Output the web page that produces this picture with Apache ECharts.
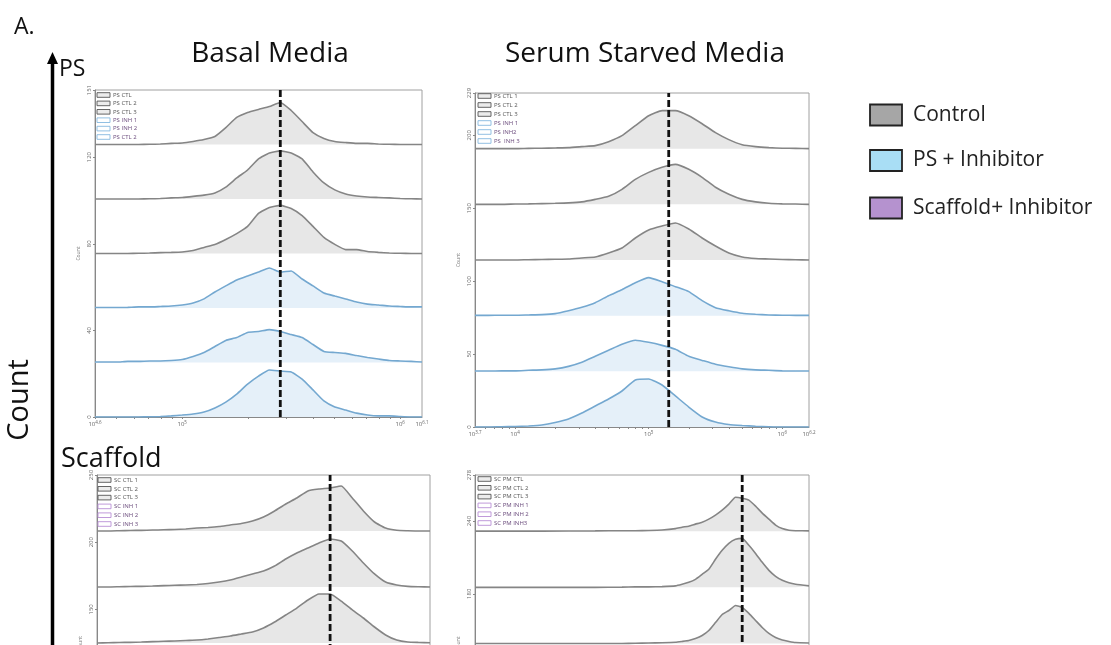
<!DOCTYPE html>
<html><head><meta charset="utf-8">
<script src="https://cdn.jsdelivr.net/npm/echarts@6/dist/echarts.min.js"></script>
<style>html,body{margin:0;padding:0;background:#fff}#c{width:1111px;height:645px}</style>
</head><body><div id="c"></div>
<script>
// ---- x bins (log10 fluorescence) ----
const basalBins = [4.6,4.65,4.7,4.75,4.8,4.85,4.9,4.95,5.0,5.05,5.1,5.15,5.2,5.25,5.3,5.35,5.4,5.45,5.5,5.55,5.6,5.65,5.7,5.75,5.8,5.85,5.9,5.95,6.0,6.05,6.1];
const serumBins = [3.7,3.8,3.9,4.0,4.1,4.2,4.3,4.4,4.5,4.6,4.7,4.8,4.9,5.0,5.1,5.2,5.3,5.4,5.5,5.6,5.7,5.8,5.9,6.0,6.1,6.2];
const scSerumBins = [3.7,4.2,4.6,4.8,4.9,5.0,5.1,5.2,5.25,5.3,5.35,5.4,5.45,5.5,5.55,5.6,5.65,5.7,5.75,5.8,5.85,5.9,5.95,6.0,6.05,6.1,6.2];

// ---- counts (top row first) ----
const psBasalCtl1 = [0,0,0,0,0,0.1,0.2,0.5,0.7,1.4,2.3,3.7,7.8,12.5,14.8,16.2,17.5,19.4,15.7,10.6,5.5,2.8,1.4,0.9,0.5,0.5,0.2,0.1,0,0,0];
const psBasalCtl2 = [0,0,0,0,0,0.1,0.2,0.5,0.7,1.2,1.8,2.8,5.5,9.7,13.4,18.5,21.2,22.2,21.2,18.5,12.5,7.4,4.2,2.3,1.4,0.9,0.7,0.5,0.2,0.1,0];
const psBasalCtl3 = [0,0,0,0,0.1,0.2,0.4,0.5,0.7,1.4,2.8,4.2,6.5,9.2,12.5,18.5,21.2,22.2,20.8,17.5,12.5,7.4,4.2,1.8,1.8,0.9,0.5,0.2,0.1,0,0];
const psBasalInh1 = [0.2,0.2,0.2,0.3,0.5,0.5,0.7,0.9,1.4,2.3,4.2,7.4,10.2,12.9,14.8,16.6,18.5,16.6,17.1,13.4,10.2,6.9,5.5,4.2,2.8,1.8,1.4,0.9,0.7,0.5,0.5];
const psBasalInh2 = [0.2,0.2,0.2,0.5,0.5,0.7,0.7,0.9,1.4,2.8,4.6,7.4,10.2,11.5,13.9,14.3,15.2,14.3,12.9,11.5,8.3,5.1,4.6,4.2,3.2,2.3,1.6,0.9,0.7,0.5,0.2];
const psBasalInh3 = [0,0,0,0,0,0.1,0.2,0.5,0.9,1.4,2.3,4.2,6.9,10.6,15.2,18.9,21.7,21.2,20.8,17.5,12.5,7.4,4.6,3.2,1.8,0.9,0.5,0.5,0.2,0,0];

const psSerumCtl1 = [0,0,0,0,0.2,0.3,0.5,0.7,1.4,2.1,4.8,8.9,15.8,22.6,26.1,26.1,22.6,17.1,11,6.2,2.7,1.4,0.7,0.3,0.2,0];
const psSerumCtl2 = [0,0,0,0.2,0.3,0.5,0.7,1,1.7,3.4,5.5,10.3,17.1,21.9,25.4,27.4,24,18.5,11.7,6.9,3.4,1.7,0.7,0.3,0.2,0];
const psSerumCtl3 = [0,0,0,0,0.2,0.3,0.5,0.7,1.4,2.1,4.8,8.2,15.1,20.6,23.3,25.4,21.3,15.1,9.6,4.8,2.1,1,0.7,0.3,0.2,0];
const psSerumInh1 = [0.2,0.2,0.3,0.3,0.5,0.7,1.4,3.4,5.8,8.9,13.7,17.8,22.6,26.1,23.3,19.9,16.5,10.3,5.5,3.4,1.7,1,0.5,0.3,0.2,0.2];
const psSerumInh2 = [0.2,0.2,0.3,0.3,0.7,1,1.7,3.4,6.2,10.3,14.4,18.5,21.3,19.9,17.8,15.1,10.3,7.5,4.8,3.1,1.7,1,0.7,0.3,0.2,0.2];
const psSerumInh3 = [0,0,0.2,0.3,0.7,1.4,3.1,5.5,9.6,14.4,19.2,24.7,32.2,32.9,28.8,21.3,13.7,6.9,3.4,1.7,1,0.5,0.2,0,0,0];

const scBasalCtl1 = [0,0,0.2,0.4,0.5,0.7,0.9,1.1,1.5,2.2,2.6,3.3,4.5,5.6,7.4,10.4,14.9,20.1,24.6,29.8,31.2,32,33.5,24.6,14.9,6.7,2.2,0.5,0.2,0,0];
const scBasalCtl2 = [0,0,0.2,0.4,0.5,0.7,1,1.3,1.5,1.9,2.6,3.7,5.2,7.4,9.7,11.9,15.6,20.8,25.3,29,32.7,35.7,34.2,26.8,17.9,9.7,3.7,1.5,0.5,0.2,0];
const scBasalCtl3 = [0,0.2,0.4,0.5,0.7,1,1.3,1.5,1.9,2.2,3,4.1,5.2,6.7,8.2,11.2,15.6,20.8,26,32,36.5,36.5,31.2,24.6,18.6,11.9,6,2.2,0.7,0.4,0.2];

const scSerumCtl1 = [0,0,0.2,0.4,0.4,0.6,1,2.1,3.3,4.1,5.8,7.4,9.9,13.2,17.3,22.3,28,27.2,25.6,20.6,14.9,9.9,5,2.1,0.8,0.4,0.2];
const scSerumCtl2 = [0,0,0,0.2,0.4,0.4,0.6,1.2,2.5,4.1,6.6,10.7,14.9,23.1,30.5,36.3,39.6,40.4,34.7,28,20.6,14,9.1,5.8,3.7,2.5,1.2];
const scSerumCtl3 = [0,0,0,0,0.2,0.4,0.6,1,1.7,2.5,4.1,6.6,10.7,17.3,23.9,27.2,31.4,29.7,24.8,19,13.2,8.3,5,2.9,1.7,0.8,0.4];

// ---- axis ticks / labels ----
const basalYLabels = [0,40,80,120,151];
const serumYLabels = [0,50,100,150,200,229];
const scBasalYLabels = [0,50,100,150,200,250];
const scSerumYLabels = [0,60,120,180,240,278];
const basalXLabels = [4.6,5,6,6.1];
const serumXLabels = [3.7,4,5,6,6.2];

// ---- dashed reference positions (log10) ----
const markers = [5.45, 5.15, 5.65, 5.70];

// ---- in-panel legend names ----
const psBasalNames = ['PS CTL','PS CTL 2','PS CTL 3','PS INH 1','PS INH 2','PS CTL 2'];
const psSerumNames = ['PS CTL 1','PS CTL 2','PS CTL 3','PS INH 1','PS INH2','PS  INH 3'];
const scBasalNames = ['SC CTL 1','SC CTL 2','SC CTL 3','SC INH 1','SC INH 2','SC INH 3'];
const scSerumNames = ['SC PM CTL','SC PM CTL 2','SC PM CTL 3','SC PM INH 1','SC PM INH 2','SC PM INH3'];
const legendNames = ['Control','PS + Inhibitor','Scaffold+ Inhibitor'];

const GRAY = {line:'#858585', fill:'#e7e7e7', box:'#555', text:'#555'};
const BLUE = {line:'#74a8d0', fill:'#e5f0f9', box:'#86b9e0', text:'#6a4b7c'};
const PURP = {box:'#b98fd6', text:'#6a4b7c'};

const panels = [
  {grid:{left:95,top:90,width:327,height:327}, xMin:4.6, xMax:6.1, yMax:151, yLabels:basalYLabels, xLabels:basalXLabels,
   bins:basalBins, rows:[psBasalCtl1,psBasalCtl2,psBasalCtl3,psBasalInh1,psBasalInh2,psBasalInh3], kinds:[GRAY,GRAY,GRAY,BLUE,BLUE,BLUE],
   names:psBasalNames, boxKinds:[GRAY,GRAY,GRAY,BLUE,BLUE,BLUE], leg:{x:97,y:95,dy:8.4}},
  {grid:{left:475,top:93,width:334,height:334}, xMin:3.7, xMax:6.2, yMax:229, yLabels:serumYLabels, xLabels:serumXLabels,
   bins:serumBins, rows:[psSerumCtl1,psSerumCtl2,psSerumCtl3,psSerumInh1,psSerumInh2,psSerumInh3], kinds:[GRAY,GRAY,GRAY,BLUE,BLUE,BLUE],
   names:psSerumNames, boxKinds:[GRAY,GRAY,GRAY,BLUE,BLUE,BLUE], leg:{x:478,y:96,dy:9}},
  {grid:{left:97,top:475,width:333,height:336}, xMin:4.6, xMax:6.1, yMax:250, yLabels:scBasalYLabels, xLabels:basalXLabels,
   bins:basalBins, rows:[scBasalCtl1,scBasalCtl2,scBasalCtl3], kinds:[GRAY,GRAY,GRAY],
   names:scBasalNames, boxKinds:[GRAY,GRAY,GRAY,PURP,PURP,PURP], leg:{x:98,y:480,dy:8.8}},
  {grid:{left:475,top:475,width:334,height:337}, xMin:3.7, xMax:6.2, yMax:278, yLabels:scSerumYLabels, xLabels:serumXLabels,
   bins:scSerumBins, rows:[scSerumCtl1,scSerumCtl2,scSerumCtl3], kinds:[GRAY,GRAY,GRAY],
   names:scSerumNames, boxKinds:[GRAY,GRAY,GRAY,PURP,PURP,PURP], leg:{x:478,y:479,dy:8.8}}
];

function minorTicks(a,b){
  const out=[];
  for(let e=Math.floor(a); e<=Math.ceil(b); e++){
    for(let k=1;k<=9;k++){const v=e+Math.log10(k); if(v>=a-1e-9 && v<=b+1e-9) out.push(v);}
  }
  return out;
}
function fmtExp(v){ return '10{s|' + (Math.round(v*10)/10) + '}'; }

const FONT = '"Open Sans", "Noto Sans", sans-serif';
const grids=[], xAxes=[], yAxes=[], series=[], graphics=[];

panels.forEach((p,i)=>{
  grids.push(Object.assign({show:true, borderColor:'#a0a0a0', borderWidth:1, containLabel:false, outerBoundsMode:'none'}, p.grid));
  xAxes.push({type:'value', gridIndex:i, min:p.xMin, max:p.xMax,
    axisLine:{lineStyle:{color:'#888',width:1}},
    axisTick:{length:2, lineStyle:{color:'#888'}, customValues:minorTicks(p.xMin,p.xMax)},
    axisLabel:{customValues:p.xLabels, formatter:fmtExp, color:'#666', fontSize:6, margin:3, fontFamily:FONT,
      rich:{s:{fontSize:4.5, verticalAlign:'top', color:'#666', padding:[0,0,4,0]}}},
    splitLine:{show:false}});
  yAxes.push({type:'value', gridIndex:i, min:0, max:p.yMax,
    name:'Count', nameLocation:'middle', nameGap:14, nameTextStyle:{fontSize:5, color:'#777', fontFamily:FONT},
    axisLine:{show:true, lineStyle:{color:'#888',width:1}},
    axisTick:{show:true, length:2, lineStyle:{color:'#888'}, customValues:p.yLabels},
    axisLabel:{customValues:p.yLabels, rotate:90, color:'#666', fontSize:6, margin:3, fontFamily:FONT},
    splitLine:{show:false}});
  const step = p.yMax/6;
  p.rows.forEach((counts,r)=>{
    const off = (5-r)*step;
    const k = p.kinds[r];
    series.push({type:'line', xAxisIndex:i, yAxisIndex:i, symbol:'none', smooth:0.15, silent:true,
      data:p.bins.map((b,j)=>[b, off+counts[j]]),
      lineStyle:{color:k.line, width:1.6},
      areaStyle:{color:k.fill, opacity:1, origin:off}, z:2+r});
  });
  series.push({type:'line', xAxisIndex:i, yAxisIndex:i, symbol:'none', silent:true,
    data:[[markers[i],0],[markers[i],p.yMax]],
    lineStyle:{color:'#111', width:2.8, type:[7,3]}, z:20});
  // in-panel legend
  p.names.forEach((n,r)=>{
    const bk = p.boxKinds[r];
    const yy = p.leg.y + r*p.leg.dy;
    graphics.push({type:'rect', shape:{x:p.leg.x, y:yy-2.3, width:13, height:4.6},
      style:{fill: bk===GRAY ? '#ececec' : '#fff', stroke:bk.box, lineWidth:0.9}, z:30});
    graphics.push({type:'text', x:p.leg.x+16, y:yy, style:{text:n, fontSize:6, fill: r<3 ? '#555' : bk.text, fontFamily:FONT, textVerticalAlign:'middle'}, z:30});
  });
});

// titles & labels
graphics.push({type:'text', x:14, y:27, style:{text:'A.', fontSize:23, fill:'#111', fontFamily:FONT, textVerticalAlign:'middle'}});
graphics.push({type:'text', x:59, y:69, style:{text:'PS', fontSize:23, fill:'#111', fontFamily:FONT, textVerticalAlign:'middle'}});
graphics.push({type:'text', x:270, y:54, style:{text:'Basal Media', fontSize:28, fill:'#111', fontFamily:FONT, textAlign:'center', textVerticalAlign:'middle'}});
graphics.push({type:'text', x:645, y:54, style:{text:'Serum Starved Media', fontSize:28, fill:'#111', fontFamily:FONT, textAlign:'center', textVerticalAlign:'middle'}});
graphics.push({type:'text', x:61, y:459, style:{text:'Scaffold', fontSize:27, fill:'#111', fontFamily:FONT, textVerticalAlign:'middle'}});
graphics.push({type:'text', x:20, y:400, rotation:Math.PI/2, style:{text:'Count', fontSize:29, fill:'#111', fontFamily:FONT, textAlign:'center', textVerticalAlign:'middle'}});
// big arrow
graphics.push({type:'line', shape:{x1:52.5, y1:62, x2:52.5, y2:650}, style:{stroke:'#000', lineWidth:3.5}});
graphics.push({type:'polygon', shape:{points:[[52.5,52],[47,64],[58,64]]}, style:{fill:'#000'}});
// right legend
const legFills = ['#a6a6a6','#a9def5','#b592cf'];
const legY = [115, 160.5, 208];
legendNames.forEach((n,i)=>{
  graphics.push({type:'rect', shape:{x:870, y:legY[i]-10.5, width:32, height:21}, style:{fill:legFills[i], stroke:'#222', lineWidth:1.8}});
  graphics.push({type:'text', x:913, y:legY[i], style:{text:n, fontSize:21, fill:'#222', fontFamily:FONT, textVerticalAlign:'middle'}});
});

const chart = echarts.init(document.getElementById('c'), null, {renderer:'canvas'});
chart.setOption({animation:false, backgroundColor:'#fff', grid:grids, xAxis:xAxes, yAxis:yAxes, series:series, graphic:graphics});
</script></body></html>
